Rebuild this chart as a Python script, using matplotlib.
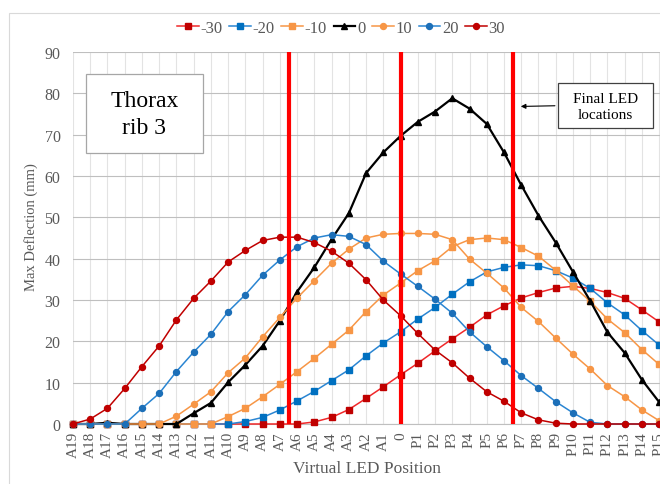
import matplotlib.pyplot as plt
from matplotlib.patches import Rectangle, FancyArrowPatch

plt.rcParams['font.family'] = ['Liberation Serif', 'DejaVu Serif']

posicoes = ["A19", "A18", "A17", "A16", "A15", "A14", "A13", "A12", "A11", "A10",
            "A9", "A8", "A7", "A6", "A5", "A4", "A3", "A2", "A1", "0",
            "P1", "P2", "P3", "P4", "P5", "P6", "P7", "P8", "P9", "P10",
            "P11", "P12", "P13", "P14", "P15"]

# deflexao maxima (mm) para cada serie
s_m30 = [0, 0, 0, 0, 0, 0, 0, 0, 0, 0, 0, 0, 0, 0, 0.5, 1.6, 3.5, 6.2, 9.0, 11.9,
         14.7, 17.7, 20.6, 23.4, 26.4, 28.6, 30.5, 31.8, 32.9, 33.3, 32.8, 31.8, 30.4, 27.6, 24.7]
s_m20 = [0, 0, 0, 0, 0, 0, 0, 0, 0, 0, 0.6, 1.6, 3.4, 5.6, 7.9, 10.5, 13.1, 16.5, 19.6, 22.3,
         25.4, 28.2, 31.4, 34.4, 36.8, 37.9, 38.5, 38.3, 37.1, 35.3, 32.8, 29.3, 26.4, 22.6, 19.1]
s_m10 = [0, 0, 0, 0, 0, 0, 0, 0, 0, 1.8, 3.8, 6.6, 9.6, 12.7, 15.9, 19.3, 22.7, 27.2, 31.2, 34.1,
         37.1, 39.5, 42.9, 44.6, 45.0, 44.6, 42.7, 40.6, 37.2, 33.4, 29.7, 25.4, 22.1, 18.0, 14.4]
s_0 = [0, 0, 0.3, 0, 0, 0, 0, 2.6, 5.1, 10.1, 14.3, 18.9, 25.0, 32.0, 37.9, 44.7, 51.0, 60.7, 65.7, 69.7,
       73.1, 75.6, 78.8, 76.3, 72.6, 65.7, 57.8, 50.4, 43.9, 36.8, 29.8, 22.2, 17.2, 10.7, 5.3]
s_10 = [0, 0, 0, 0, 0, 0, 1.9, 4.8, 7.8, 12.4, 16.0, 21.1, 25.8, 30.5, 34.7, 38.9, 42.3, 45.0, 45.9, 46.1,
        46.1, 45.9, 44.6, 39.9, 36.5, 32.9, 28.2, 24.8, 20.8, 16.9, 13.3, 9.3, 6.6, 3.4, 0.8]
s_20 = [0, 0, 0, 0, 3.8, 7.4, 12.7, 17.4, 21.7, 27.2, 31.3, 36.0, 39.7, 42.9, 45.0, 45.8, 45.4, 43.4, 39.4, 36.3,
        33.3, 30.2, 26.8, 22.3, 18.7, 15.3, 11.7, 8.6, 5.4, 2.7, 0.4, 0, 0, 0, 0]
s_30 = [0, 1.2, 3.8, 8.6, 13.9, 18.9, 25.2, 30.4, 34.6, 39.2, 42.0, 44.4, 45.2, 45.2, 43.9, 41.8, 38.9, 34.9, 30.0, 26.2,
        21.9, 17.9, 14.8, 11.1, 7.8, 5.5, 2.7, 1.0, 0.2, 0, 0, 0, 0, 0, 0]

nomes = ["-30", "-20", "-10", "0", "10", "20", "30"]
series = [s_m30, s_m20, s_m10, s_0, s_10, s_20, s_30]

# posicoes finais dos LEDs (em indices de categoria)
leds = [12.55, 19, 25.55]

estilos = [
    dict(color='#F0282A', mfc='#C00000', mec='#C00000', marker='s', ms=4.3, lw=1.1),
    dict(color='#2A85D2', mfc='#0070C0', mec='#0070C0', marker='s', ms=4.3, lw=1.1),
    dict(color='#F79646', mfc='#F79646', mec='#F79646', marker='s', ms=4.3, lw=1.1),
    dict(color='black', mfc='black', mec='black', marker='^', ms=4.5, lw=1.6),
    dict(color='#F79646', mfc='#F79646', mec='#F79646', marker='o', ms=4.3, lw=1.1),
    dict(color='#2A85D2', mfc='#1C6FB8', mec='#1C6FB8', marker='o', ms=4.3, lw=1.1),
    dict(color='#C00000', mfc='#C00000', mec='#C00000', marker='o', ms=4.3, lw=1.1),
]

W, H = 660, 485
def fx(px): return px / W
def fy(py): return 1 - py / H

fig = plt.figure(figsize=(6.6, 4.85), dpi=100)
cinza = '#595959'

# borda externa do grafico
fig.add_artist(Rectangle((fx(9), fy(495)), (700 - 9) / W, (495 - 14) / H,
                         transform=fig.transFigure, fill=False, ec='#D9D9D9', lw=0.8))

ax = fig.add_axes([fx(73), fy(425), (W - 73) / W, (425 - 53) / H])
x = list(range(len(posicoes)))

linhas = []
for nome, s, est in zip(nomes, series, estilos):
    l, = ax.plot(x, s, label=nome, clip_on=False, zorder=3, **est)
    linhas.append(l)

for xl in leds:
    ax.axvline(xl, color='#FF0000', lw=3.0, zorder=5)

ax.set_xlim(0, (W - 73) / 17.24)
ax.set_ylim(0, 90)
ax.set_yticks(range(0, 91, 10))
ax.set_xticks(x)
ax.set_xticklabels(posicoes, rotation=90, fontsize=11, color=cinza)
ax.tick_params(axis='y', labelsize=11.5, labelcolor=cinza, length=0, pad=9)
ax.tick_params(axis='x', length=0, pad=5)

ax.grid(axis='y', color='#BFBFBF', lw=0.8, zorder=0)
ax.grid(axis='x', color='#E3E3E3', lw=0.8, zorder=0)
ax.set_axisbelow(True)
for lado in ['top', 'right', 'left']:
    ax.spines[lado].set_visible(False)
ax.spines['bottom'].set_color('#BFBFBF')

fig.text(fx(31), fy(227), "Max Deflection (mm)", rotation=90, ha='center', va='center',
         fontsize=10.5, color=cinza)
fig.text(fx(367), fy(469), "Virtual LED Position", ha='center', va='center',
         fontsize=12.5, color=cinza)

fig.legend(handles=linhas, labels=nomes, loc='center', bbox_to_anchor=(fx(341), fy(29)),
           ncol=7, frameon=False, fontsize=12, handlelength=1.3, handletextpad=0.1,
           columnspacing=0.4, labelcolor=cinza)

# caixa "Thorax rib 3"
fig.add_artist(Rectangle((fx(85.7), fy(154.3)), (203.3 - 85.7) / W, (154.3 - 75) / H,
                         transform=fig.transFigure, fc='white', ec='#A6A6A6', lw=0.9, zorder=10))
fig.text(fx(144.5), fy(115), "Thorax\nrib 3", ha='center', va='center', fontsize=17,
         linespacing=1.4, zorder=11)

# caixa "Final LED locations" com seta
fig.add_artist(Rectangle((fx(557.7), fy(129.3)), (653.3 - 557.7) / W, (129.3 - 84.3) / H,
                         transform=fig.transFigure, fc='white', ec='#404040', lw=0.9, zorder=10))
fig.text(fx(605.5), fy(107.5), "Final LED\nlocations", ha='center', va='center', fontsize=11,
         linespacing=1.35, zorder=11)
fig.add_artist(FancyArrowPatch((fx(557.7), fy(106.7)), (fx(518), fy(107.5)),
                               transform=fig.transFigure, arrowstyle='-|>', mutation_scale=7,
                               lw=0.8, color='black', zorder=11))

plt.savefig("out.png", dpi=100)
